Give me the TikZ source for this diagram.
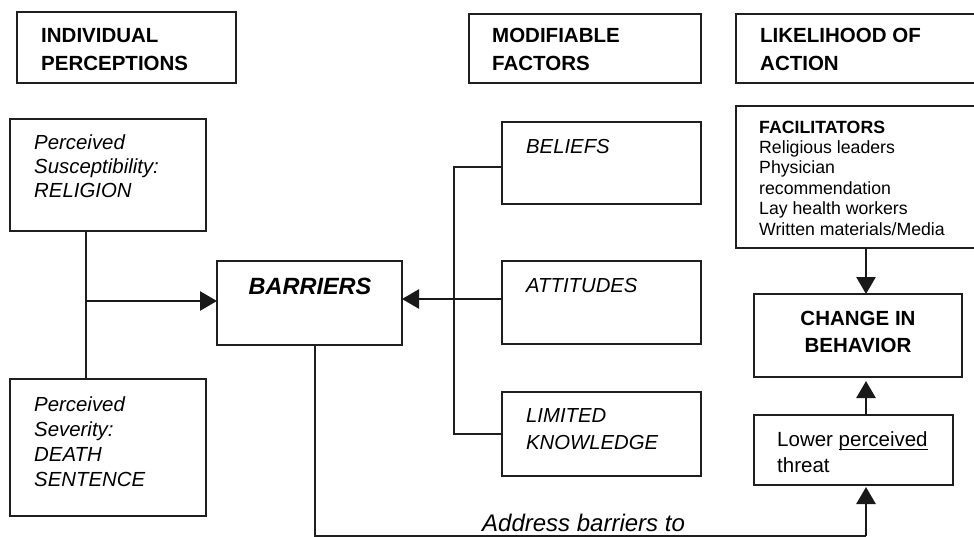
\documentclass[tikz,border=0pt]{standalone}
\usepackage{fontspec}
\setmainfont{Liberation Sans}
\usetikzlibrary{arrows.meta}
\newcommand{\Lft}[2]{\vtop{\baselineskip=#1\lineskiplimit=-\maxdimen\lineskip=0pt\halign{##\hfil\cr#2\crcr}}}
\newcommand{\Ctr}[2]{\vtop{\baselineskip=#1\lineskiplimit=-\maxdimen\lineskip=0pt\halign{\hfil##\hfil\cr#2\crcr}}}
\newsavebox{\ulbx}
\newcommand{\ulw}[1]{\sbox{\ulbx}{#1}\rlap{\rule[-3.6pt]{\wd\ulbx}{1.1pt}}\usebox{\ulbx}}
\begin{document}
\begin{tikzpicture}[x=1pt,y=-1pt,
  box/.style={draw=black!88, line width=1.8pt, rectangle, inner sep=0pt, outer sep=0pt, anchor=north west},
  conn/.style={draw=black!88, line width=2pt},
  arr/.style={draw=black!90, line width=2.6pt, -{Triangle[length=17pt,width=19pt]}},
  txt/.style={inner sep=0pt, anchor=base west, text=black},
  hdr/.style={txt, font=\bfseries\fontsize{20.5}{28}\selectfont},
  itx/.style={txt, font=\itshape\fontsize{20.4}{24}\selectfont}]
\useasboundingbox (0,0) rectangle (974,536);
\clip (0,0) rectangle (974,536);
\fill[white] (0,0) rectangle (974,536);
% header boxes
\node[box, minimum width=219pt, minimum height=71pt] (indiv) at (17,12) {};
\node[box, minimum width=232pt, minimum height=69pt] (modif) at (469,14) {};
\node[box, minimum width=254pt, minimum height=69pt] (likeli) at (736,14) {};
\node[hdr] (indivT) at (41,42) {\Lft{28pt}{INDIVIDUAL\cr PERCEPTIONS}};
\node[hdr] (modifT) at (492,42) {\Lft{28pt}{MODIFIABLE\cr FACTORS}};
\node[hdr] (likeliT) at (760,42) {\Lft{28pt}{LIKELIHOOD OF\cr ACTION}};
% left column
\node[box, minimum width=196pt, minimum height=112pt] (susc) at (10,119) {};
\node[box, minimum width=196pt, minimum height=137pt] (sev) at (10,379) {};
\node[itx] (suscT) at (34,149) {\Lft{24pt}{Perceived\cr Susceptibility:\cr RELIGION}};
\node[itx] (sevT) at (34,411) {\Lft{25pt}{Perceived\cr Severity:\cr DEATH\cr SENTENCE}};
% barriers
\node[box, minimum width=185pt, minimum height=84pt] (barriers) at (217,261) {};
\node[txt, anchor=base, font=\bfseries\itshape\fontsize{23.5}{28}\selectfont] (barT) at (310,294) {BARRIERS};
% modifiable factors
\node[box, minimum width=199pt, minimum height=82pt] (beliefs) at (502,122) {};
\node[box, minimum width=199pt, minimum height=83pt] (attitudes) at (502,261) {};
\node[box, minimum width=199pt, minimum height=84pt] (limited) at (502,392) {};
\node[itx, font=\itshape\fontsize{20.3}{27}\selectfont] (belT) at (526,153) {BELIEFS};
\node[itx, font=\itshape\fontsize{20.3}{27}\selectfont] (attT) at (526,292) {ATTITUDES};
\node[itx, font=\itshape\fontsize{20.3}{27}\selectfont] (limT) at (526,422) {\Lft{27pt}{LIMITED\cr KNOWLEDGE}};
% right column
\node[box, minimum width=254pt, minimum height=142pt] (facil) at (736,106) {};
\node[txt, font=\fontsize{17.7}{20.4}\selectfont] (facT) at (759,133) {\Lft{20.4pt}{\textbf{FACILITATORS}\cr Religious leaders\cr Physician\cr recommendation\cr Lay health workers\cr Written materials/Media}};
\node[box, minimum width=208pt, minimum height=83pt] (change) at (754,294) {};
\node[txt, anchor=base, font=\bfseries\fontsize{20.5}{27}\selectfont] (chT) at (858,325) {\Ctr{27pt}{CHANGE IN\cr BEHAVIOR}};
\node[box, minimum width=199pt, minimum height=70pt] (lower) at (754,415) {};
\node[txt, font=\fontsize{20.5}{26}\selectfont] (lowT) at (777,446) {\Lft{26pt}{Lower \ulw{perceived}\cr threat}};
\node[txt, font=\itshape\fontsize{24}{28}\selectfont] (addr) at (482,531) {Address barriers to};
% connectors
\coordinate (brT) at (454,167);
\coordinate (brB) at (454,434);
\coordinate (attY) at (0,299);
\draw[conn] (beliefs.west |- brT) -- (brT) -- (brB) -- (limited.west |- brB);
\draw[arr] (attitudes.west |- attY) -- (barriers.east |- attY);
\coordinate (lv) at (86,301);
\draw[conn] (susc.south -| lv) -- (sev.north -| lv);
\draw[arr] (lv) -- (barriers.west |- lv);
\coordinate (bl) at (315,536);
\coordinate (br) at (866,536);
\draw[conn] (barriers.south -| bl) -- (bl) -- (br);
\draw[arr, shorten >=2pt] (br) -- (lower.south -| br);
\draw[arr, shorten >=4pt] (lower.north -| br) -- (change.south -| br);
\draw[arr] (facil.south -| br) -- (change.north -| br);
\end{tikzpicture}
\end{document}
